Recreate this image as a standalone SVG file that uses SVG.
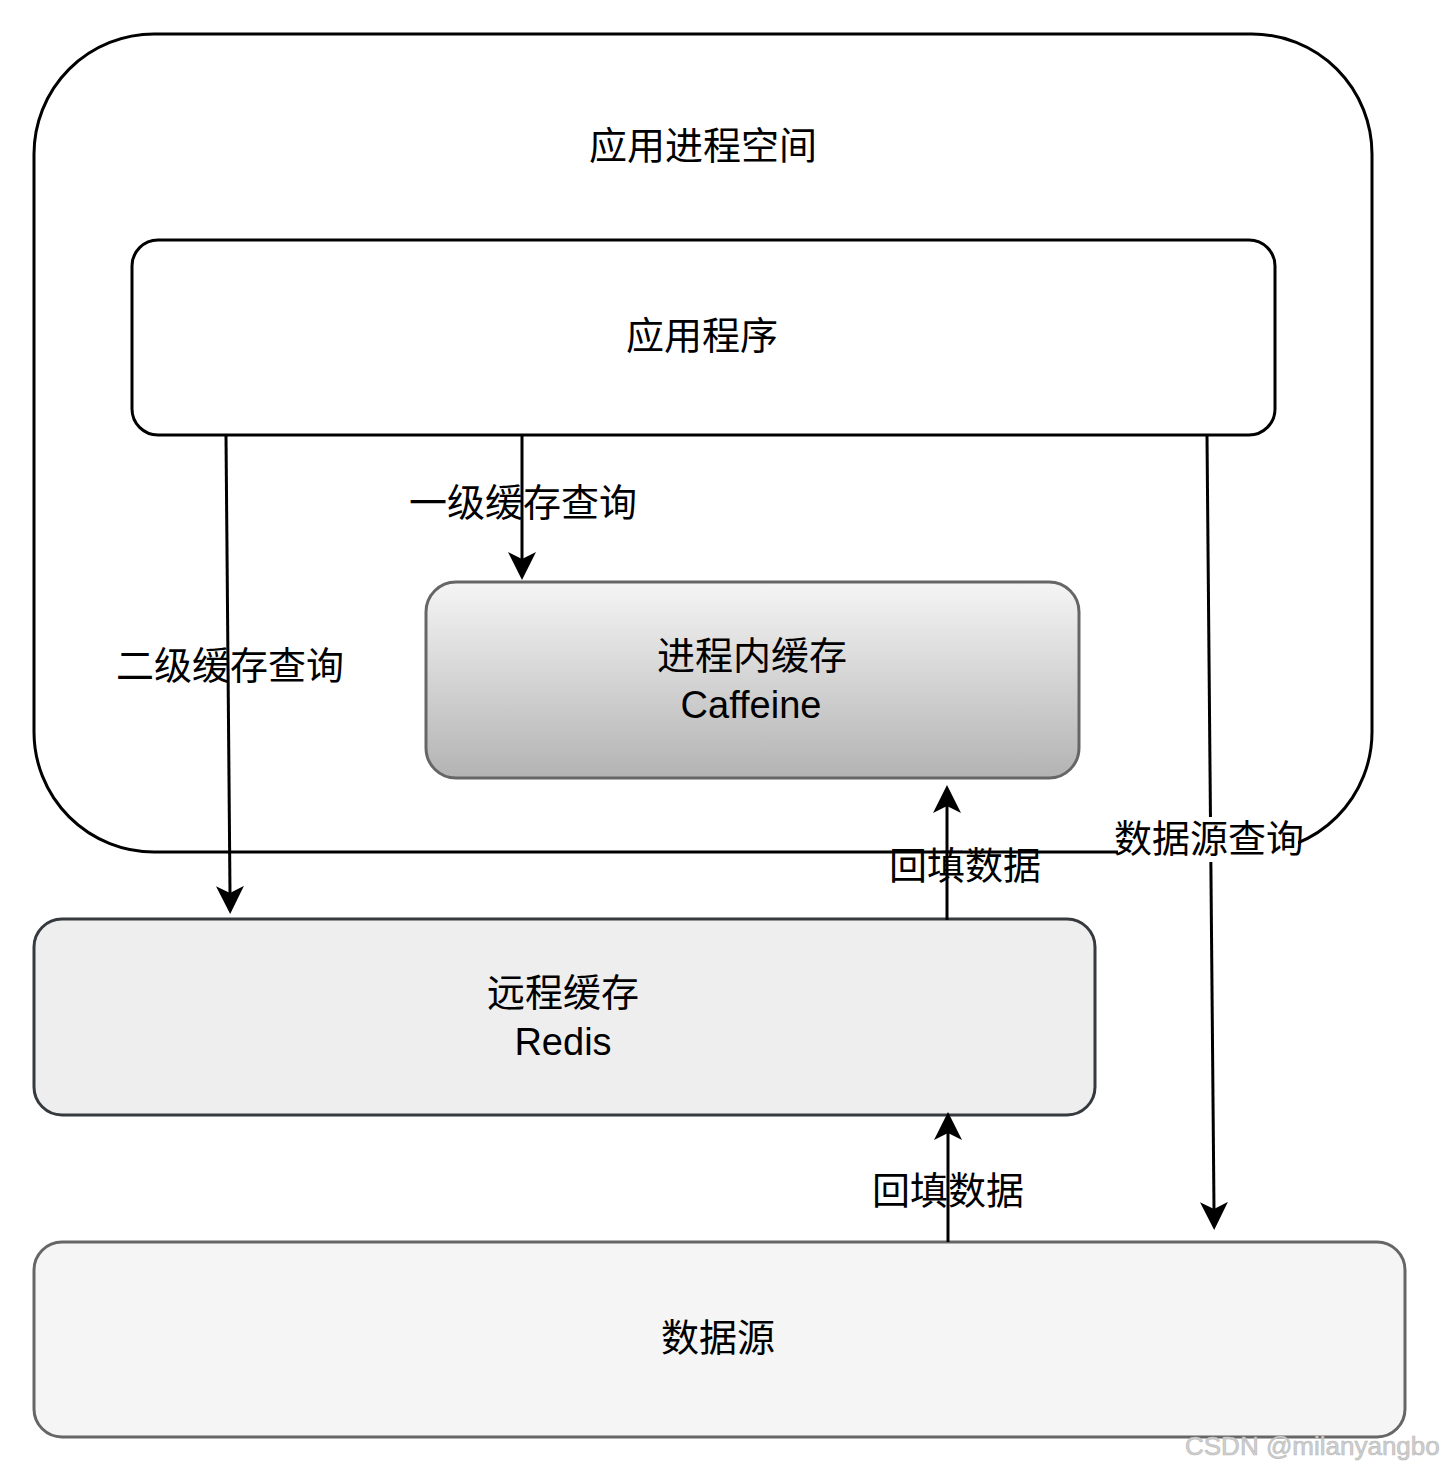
<svg xmlns="http://www.w3.org/2000/svg" width="1440" height="1472" viewBox="0 0 1440 1472">
  <defs>
    <linearGradient id="gradCaffeine" x1="0" y1="0" x2="0" y2="1">
      <stop offset="0" stop-color="#f5f5f5"/>
      <stop offset="1" stop-color="#b3b3b3"/>
    </linearGradient>
    <marker id="arrow" viewBox="0 0 28 28" refX="7" refY="14" markerWidth="28" markerHeight="28" markerUnits="userSpaceOnUse" orient="auto">
      <path d="M28,14 L0,0 L7,14 L0,28 Z" fill="#000"/>
    </marker>
    <style>
      .lbl { font-family: "Liberation Sans", Arial, "Noto Sans CJK SC", sans-serif; font-size: 38px; fill: #000; text-anchor: middle; }
      .edge { stroke: #000; stroke-width: 3; fill: none; marker-end: url(#arrow); }
      .wm { font-family: "Liberation Sans", Arial, sans-serif; font-size: 26px; fill: #cfcfcf; stroke: #b8b8b8; stroke-width: 0.6; }
    </style>
  </defs>
  <rect width="1440" height="1472" fill="#ffffff"/>

  <g id="process-space">
    <rect x="34" y="34" width="1338" height="818" rx="120" ry="120" fill="none" stroke="#000" stroke-width="3"/>
    <text class="lbl" x="703" y="159">应用进程空间</text>
  </g>

  <g id="application">
    <rect x="132" y="240" width="1143" height="195" rx="26" ry="26" fill="#ffffff" stroke="#000" stroke-width="3"/>
    <text class="lbl" x="702" y="349">应用程序</text>
  </g>

  <g id="caffeine">
    <rect x="426" y="582" width="653" height="196" rx="30" ry="30" fill="url(#gradCaffeine)" stroke="#666666" stroke-width="3"/>
    <text class="lbl" x="752" y="669">进程内缓存</text>
    <text class="lbl" x="751" y="718">Caffeine</text>
  </g>

  <g id="redis">
    <rect x="34" y="919" width="1061" height="196" rx="28" ry="28" fill="#eeeeee" stroke="#36393d" stroke-width="3"/>
    <text class="lbl" x="563" y="1006">远程缓存</text>
    <text class="lbl" x="563" y="1055">Redis</text>
  </g>

  <g id="datasource">
    <rect x="34" y="1242" width="1371" height="195" rx="28" ry="28" fill="#f5f5f5" stroke="#666666" stroke-width="3"/>
    <text class="lbl" x="718" y="1351">数据源</text>
  </g>

  <g id="connectors">
    <g id="edge-l1">
      <line class="edge" x1="522" y1="436" x2="522" y2="559"/>
      <text class="lbl" x="523" y="516">一级缓存查询</text>
    </g>
    <g id="edge-l2">
      <line class="edge" x1="226" y1="436" x2="230" y2="893"/>
      <text class="lbl" x="230" y="679">二级缓存查询</text>
    </g>
    <g id="edge-ds">
      <line class="edge" x1="1207" y1="436" x2="1214" y2="1209"/>
      <rect x="1118" y="817" width="180" height="45" fill="#ffffff"/>
      <text class="lbl" x="1209" y="852">数据源查询</text>
    </g>
    <g id="edge-fill1">
      <line class="edge" x1="947" y1="920" x2="947" y2="806"/>
      <text class="lbl" x="965" y="879">回填数据</text>
    </g>
    <g id="edge-fill2">
      <line class="edge" x1="948" y1="1242" x2="948" y2="1133"/>
      <text class="lbl" x="948" y="1204">回填数据</text>
    </g>
  </g>

  <text class="wm" x="1185" y="1455">CSDN @milanyangbo</text>
</svg>
